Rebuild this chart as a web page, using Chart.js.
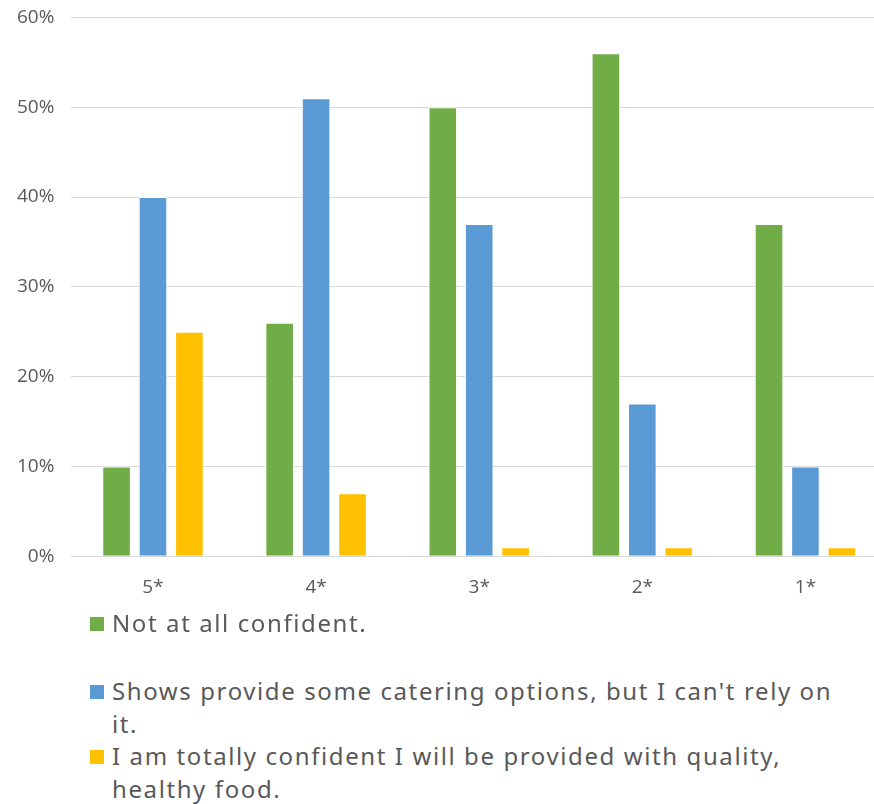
<!DOCTYPE html>
<html>
<head>
<meta charset="utf-8">
<script src="https://cdn.jsdelivr.net/npm/chart.js@4"></script>
<style>
html,body{margin:0;padding:0;background:#fff;width:874px;height:804px;overflow:hidden;position:relative;}
#wrap{position:absolute;left:0;top:-11px;width:887px;height:622px;}
#legend{position:absolute;left:0;top:0;width:874px;font-family:"Noto Sans",sans-serif;font-size:24px;color:#595959;letter-spacing:1.6px;}
.item{position:absolute;left:90px;width:760px;line-height:33px;}
.sw{position:absolute;left:0;top:11px;width:14px;height:14px;}
.txt{display:block;margin-left:22px;width:730px;}
</style>
</head>
<body>
<div id="wrap"><canvas id="c"></canvas></div>
<div id="legend"></div>
<script>
const categories = ["5*", "4*", "3*", "2*", "1*"];
const seriesNames = [
  "Not at all confident.",
  "Shows provide some catering options, but I can't rely on it.",
  "I am totally confident I will be provided with quality, healthy food."
];
const notConfident = [10, 26, 50, 56, 37];
const someOptions = [40, 51, 37, 17, 10];
const totallyConfident = [25, 7, 1, 1, 1];
const yTicks = [0, 10, 20, 30, 40, 50, 60];
const colors = ["#70AD47", "#5B9BD5", "#FFC000"];

const ctx = document.getElementById('c');
const values = [notConfident, someOptions, totallyConfident];
new Chart(ctx, {
  type: 'bar',
  data: {
    labels: categories,
    datasets: values.map((v, i) => ({
      label: seriesNames[i],
      data: v,
      backgroundColor: colors[i],
      borderColor: '#ffffff',
      borderWidth: 1,
      categoryPercentage: 0.67,
      barPercentage: 0.785
    }))
  },
  options: {
    responsive: true,
    maintainAspectRatio: false,
    animation: false,
    layout: { padding: { left: 0, right: 0, top: 0, bottom: 0 } },
    plugins: { legend: { display: false }, tooltip: { enabled: false } },
    scales: {
      x: {
        grid: { display: false },
        border: { color: '#d9d9d9', width: 1 },
        ticks: { color: '#595959', font: { family: 'Open Sans', size: 19 }, padding: 12 }
      },
      y: {
        min: 0, max: 60,
        afterBuildTicks: (axis) => { axis.ticks = yTicks.map(v => ({ value: v })); },
        grid: { color: '#d9d9d9', lineWidth: 1, drawTicks: false },
        border: { display: false },
        ticks: { color: '#595959', font: { family: 'Open Sans', size: 19 }, padding: 17, callback: v => v + '%' }
      }
    }
  }
});

const legendTops = [606, 674, 739];
const leg = document.getElementById('legend');
seriesNames.forEach((n, i) => {
  const d = document.createElement('div');
  d.className = 'item';
  d.style.top = legendTops[i] + 'px';
  d.innerHTML = '<span class="sw" style="background:' + colors[i] + '"></span><span class="txt"></span>';
  d.querySelector('.txt').textContent = n;
  leg.appendChild(d);
});
</script>
</body>
</html>
